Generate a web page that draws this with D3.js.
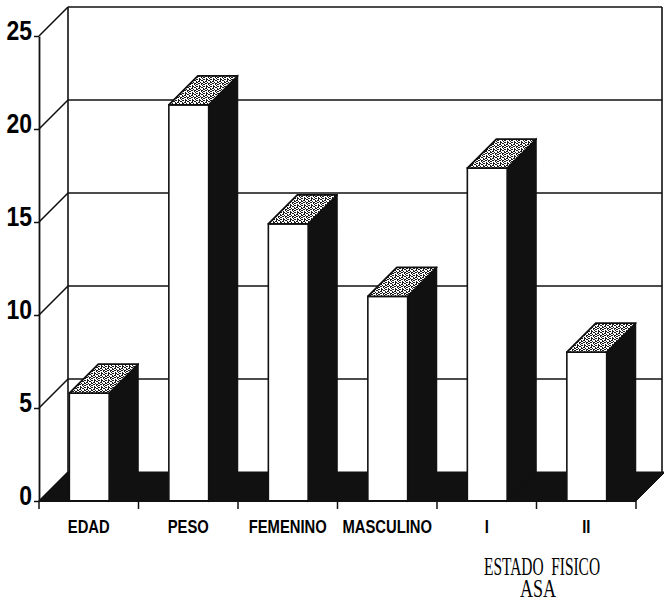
<!DOCTYPE html>
<html><head><meta charset="utf-8">
<script src="https://cdn.jsdelivr.net/npm/d3@7"></script>
<style>html,body{margin:0;padding:0;background:#fff;}svg{display:block}</style>
</head><body>
<svg id="chart" width="664" height="601"></svg>
<script>
const categories = ["EDAD", "PESO", "FEMENINO", "MASCULINO", "I", "II"];
const values = [5.8, 21.3, 14.9, 11.0, 17.9, 8.0];
const yTicks = [0, 5, 10, 15, 20, 25];
const axisTitle = ["ESTADO  FISICO", "ASA"];

const dx = 29, dy = 29;
const xStart = 39, xEnd = 636;
const y = d3.scaleLinear().domain([0, 25]).range([501, 36]);
const x = d3.scaleBand().domain(categories).range([xStart, xEnd]).paddingInner(0).paddingOuter(0);
const bw = x.bandwidth();
const svg = d3.select("#chart");
const ink = "#111";
const backRight = Math.min(xEnd + dx, 662);

// narrow font helper: if no narrow face is installed, condense the regular face
const NARROW = "'Liberation Sans Narrow', 'Arial Narrow', 'Liberation Sans', Arial, sans-serif";
const REGULAR = "'Liberation Sans', Arial, sans-serif";
function narrowFix(sel, factor) {
  sel.each(function () {
    this.style.fontFamily = NARROW;
    const w1 = this.getComputedTextLength();
    this.style.fontFamily = REGULAR;
    const w2 = this.getComputedTextLength();
    this.style.fontFamily = NARROW;
    if (Math.abs(w1 - w2) < 0.5) {
      d3.select(this).attr("textLength", w2 * factor).attr("lengthAdjust", "spacingAndGlyphs");
    }
  });
}

// texture for bar tops
const defs = svg.append("defs");
const pat = defs.append("pattern").attr("id", "speck")
  .attr("width", 7).attr("height", 7).attr("patternUnits", "userSpaceOnUse");
pat.append("rect").attr("width", 7).attr("height", 7).attr("fill", "#fff");
pat.append("path").attr("fill", "#1a1a1a")
  .attr("d", "M0 0h2v1h-2zM3 1h1v2h-1zM5 0h1v1h-1zM1 2h1v1h-1zM5 3h2v1h-2zM0 4h1v2h-1zM2 4h2v1h-2zM4 5h1v1h-1zM6 6h1v1h-1zM2 6h2v1h-2zM6 1h1v1h-1zM3 3h1v1h-1zM4 2h1v1h-1zM1 5h1v1h-1zM5 6h1v1h-1zM0 2h1v1h-1z");

// side (left) wall diagonals
svg.append("g").selectAll("line").data(yTicks).join("line")
  .attr("x1", xStart).attr("y1", d => y(d))
  .attr("x2", xStart + dx).attr("y2", d => y(d) - dy)
  .attr("stroke", ink).attr("stroke-width", 1.6);

// back wall
const back = svg.append("g");
back.selectAll("line.grid").data(yTicks.filter(d => d > 0)).join("line")
  .attr("class", "grid")
  .attr("x1", xStart + dx).attr("x2", backRight)
  .attr("y1", d => y(d) - dy).attr("y2", d => y(d) - dy)
  .attr("stroke", ink).attr("stroke-width", 1.6);
back.append("line").attr("x1", xStart + dx).attr("x2", xStart + dx)
  .attr("y1", y(25) - dy).attr("y2", y(0) - dy).attr("stroke", ink).attr("stroke-width", 1.6);
back.append("line").attr("x1", backRight).attr("x2", backRight)
  .attr("y1", y(25) - dy).attr("y2", y(0) - dy).attr("stroke", ink).attr("stroke-width", 1.6);

// floor
svg.append("path")
  .attr("d", `M${xStart},${y(0)}L${xEnd},${y(0)}L${xEnd + dx},${y(0) - dy}L${xStart + dx},${y(0) - dy}Z`)
  .attr("fill", ink).attr("stroke", ink).attr("stroke-width", 1);

// y axis
const yAxis = svg.append("g").attr("transform", `translate(${xStart},0)`)
  .call(d3.axisLeft(y).tickValues(yTicks).tickSize(5).tickSizeOuter(0).tickPadding(2).tickFormat(d3.format("d")));
yAxis.select(".domain").attr("stroke", ink).attr("stroke-width", 1.8);
yAxis.selectAll(".tick line").attr("stroke", ink).attr("stroke-width", 1.5);
yAxis.selectAll(".tick text")
  .attr("dy", 3)
  .attr("fill", "#000")
  .style("font-size", "28px").style("font-weight", "bold")
  .call(narrowFix, 0.82);

// bars
const bars = svg.append("g").selectAll("g").data(categories).join("g");
const xl = c => x(c) + bw * 0.305;
const xr = c => x(c) + bw * 0.705;
const vt = (c, i) => y(values[i]);
bars.append("path")
  .attr("d", (c, i) => `M${xr(c)},${vt(c, i)}L${xr(c) + dx},${vt(c, i) - dy}L${xr(c) + dx},${y(0) - dy}L${xr(c)},${y(0)}Z`)
  .attr("fill", ink).attr("stroke", ink).attr("stroke-width", 1.2);
bars.append("rect")
  .attr("x", c => xl(c)).attr("y", (c, i) => vt(c, i))
  .attr("width", c => xr(c) - xl(c)).attr("height", (c, i) => y(0) - vt(c, i))
  .attr("fill", "#fff").attr("stroke", ink).attr("stroke-width", 1.6);
bars.append("path")
  .attr("d", (c, i) => `M${xl(c)},${vt(c, i)}L${xr(c)},${vt(c, i)}L${xr(c) + dx},${vt(c, i) - dy}L${xl(c) + dx},${vt(c, i) - dy}Z`)
  .attr("fill", "url(#speck)").attr("stroke", ink).attr("stroke-width", 1.8).attr("stroke-linejoin", "round");

// bottom axis line and ticks at band boundaries
const bounds = categories.map(c => x(c)).concat([xEnd]);
const xAxis = svg.append("g");
xAxis.append("line").attr("x1", xStart).attr("x2", xEnd).attr("y1", y(0)).attr("y2", y(0))
  .attr("stroke", ink).attr("stroke-width", 1.8);
xAxis.selectAll("line.tk").data(bounds).join("line").attr("class", "tk")
  .attr("x1", d => d).attr("x2", d => d).attr("y1", y(0)).attr("y2", y(0) + 8)
  .attr("stroke", ink).attr("stroke-width", 1.5);
xAxis.selectAll("text").data(categories).join("text")
  .attr("x", c => x(c) + bw / 2).attr("y", 533)
  .attr("text-anchor", "middle").attr("fill", "#000")
  .style("font-size", "18.5px").style("font-weight", "bold")
  .text(c => c)
  .call(narrowFix, 0.8);

// axis title (condensed serif)
const titleW = [116, 36];
svg.append("g").selectAll("text").data(axisTitle).join("text")
  .attr("x", (d, i) => i === 0 ? 542 : 538)
  .attr("y", (d, i) => i === 0 ? 575 : 597)
  .attr("text-anchor", "middle").attr("fill", "#000")
  .style("white-space", "pre")
  .style("font-family", "'Liberation Serif', 'Times New Roman', serif").style("font-size", "26px")
  .attr("textLength", (d, i) => titleW[i]).attr("lengthAdjust", "spacingAndGlyphs")
  .text(d => d);
</script>
</body></html>
